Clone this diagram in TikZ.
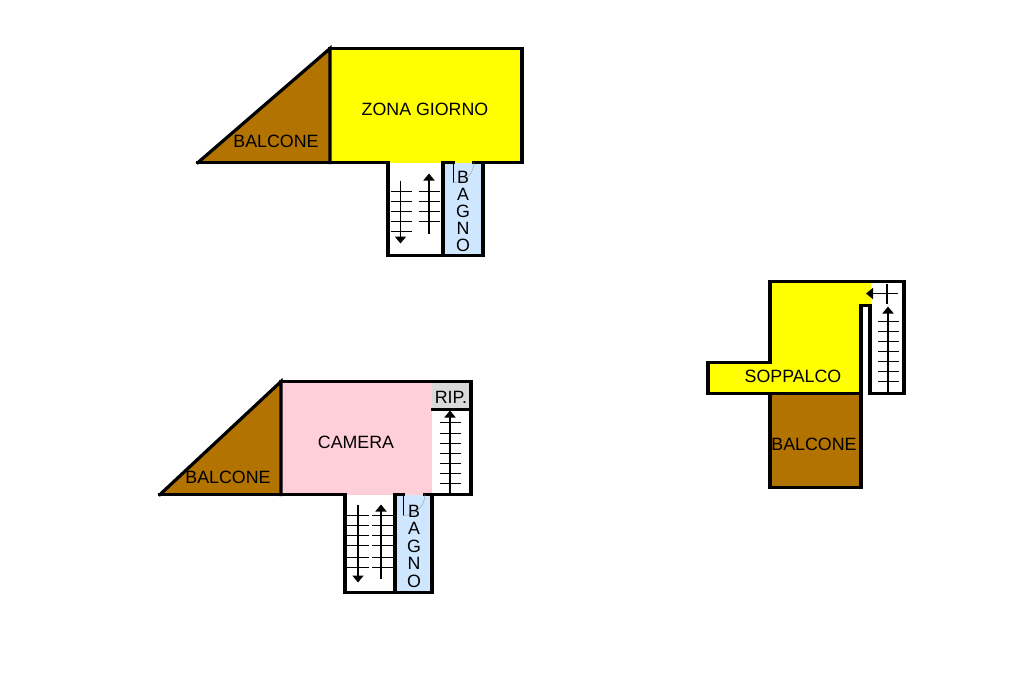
\documentclass[tikz,border=0pt]{standalone}
\usepackage{fontspec}
\setmainfont{Liberation Sans}
\usetikzlibrary{arrows.meta}
\definecolor{brownb}{HTML}{B27300}
\definecolor{pinkc}{HTML}{FFCFD9}
\definecolor{blueb}{HTML}{CFE6FF}
\definecolor{greyr}{HTML}{D9D9D9}
\definecolor{yelz}{RGB}{255,255,0}
\tikzset{
  x=1pt,y=-1pt,
  wall/.style={line width=3.2pt,line cap=rect,line join=miter,black},
  thin stair/.style={line width=1.2pt,black},
  flight/.style={line width=1.7pt,black,-{Triangle[length=7pt,width=11pt]}},
  doorleaf/.style={line width=0.9pt,black},
  doorarc/.style={line width=0.5pt,black!35},
  lbl/.style={font=\fontsize{17.8}{20}\selectfont,inner sep=0pt,text=black},
  vlbl/.style={font=\fontsize{17.8}{20}\selectfont,inner sep=0pt,text=black}
}
\begin{document}
\begin{tikzpicture}
\useasboundingbox (0,0) rectangle (1024,682);
\fill[white] (0,0) rectangle (1024,682);
\begin{scope}[shift={(0,0.5)}]
% ===== top plan =====
\fill[brownb] (198,162) -- (330,48) -- (330,162) -- cycle;
\fill[yelz] (330,48) rectangle (522,162);
\fill[blueb] (443,162) rectangle (483,255);
\draw[wall] (198,162) -- (330,48) -- (330,162);
\draw[wall] (330,48) -- (522,48) -- (522,162) -- (474,162);
\draw[wall] (453,162) -- (443,162);
\draw[wall] (198,162) -- (388,162) -- (388,255) -- (483,255) -- (483,162);
\draw[wall] (443,162) -- (443,255);
\draw[doorleaf] (453,162) -- (453,182);
\draw[doorarc] (474,162) arc[start angle=0,end angle=90,x radius=21,y radius=20];
\draw[flight] (400.5,180) -- (400.5,243);
\draw[flight] (429,233) -- (429,173);
\foreach \y in {191,201,211,221,231} \draw[thin stair] (391,\y) -- (412,\y);
\foreach \y in {191,201,211,221} \draw[thin stair] (419,\y) -- (440,\y);
\node[lbl] (bal1) at (276,141) {BALCONE};
\node[lbl] (zona) at (425,109) {ZONA GIORNO};
\node[vlbl] (b1) at (463,177) {B};
\node[vlbl] (b2) at (463,194) {A};
\node[vlbl] (b3) at (463,211) {G};
\node[vlbl] (b4) at (463,228) {N};
\node[vlbl] (b5) at (463,245) {O};
% ===== bottom plan =====
\fill[brownb] (160,494) -- (281,381) -- (281,494) -- cycle;
\fill[pinkc] (281,381) rectangle (432,494);
\fill[greyr] (432,381) rectangle (471,409);
\fill[blueb] (395,494) rectangle (432,592);
\draw[wall] (160,494) -- (281,381) -- (281,494);
\draw[wall] (281,381) -- (471,381) -- (471,494) -- (425,494);
\draw[wall] (433,409) -- (471,409);
\draw[wall] (403,494) -- (395,494);
\draw[wall] (160,494) -- (345,494) -- (345,592) -- (432,592) -- (432,494);
\draw[wall] (395,494) -- (395,592);
\draw[doorleaf] (403,494) -- (403,515);
\draw[doorarc] (425,494) arc[start angle=0,end angle=90,x radius=22,y radius=21];
\draw[flight] (358,504) -- (358,582);
\draw[flight] (381,578) -- (381,504);
\draw[flight] (450,494) -- (450,410);
\foreach \y in {515,525,535,545,557,567} {
  \draw[thin stair] (347,\y) -- (369,\y);
  \draw[thin stair] (372,\y) -- (393,\y);
}
\foreach \y in {422,433,443,453,463,473,483} \draw[thin stair] (440,\y) -- (461,\y);
\node[lbl] (bal2) at (228,477) {BALCONE};
\node[lbl] (cam) at (356,442) {CAMERA};
\node[lbl] (rip) at (451,397) {RIP.};
\node[vlbl] (c1) at (414,511) {B};
\node[vlbl] (c2) at (414,528) {A};
\node[vlbl] (c3) at (414,546) {G};
\node[vlbl] (c4) at (414,563) {N};
\node[vlbl] (c5) at (414,581) {O};
% ===== right plan =====
\fill[yelz] (770,281) -- (871,281) -- (871,305) -- (861,305) -- (861,393) -- (708,393) -- (708,362) -- (770,362) -- cycle;
\fill[brownb] (770,393) rectangle (861,487);
\draw[wall] (870,305) -- (861,305) -- (861,487) -- (770,487) -- (770,393);
\draw[wall] (870,305) -- (870,393) -- (904,393) -- (904,281) -- (770,281) -- (770,362) -- (708,362) -- (708,393) -- (861,393);
\draw[flight] (898,293) -- (866,293);
\draw[thin stair] (887,283) -- (887,303);
\draw[flight] (888,393) -- (888,306);
\foreach \y in {321,331,341,351,361,371,381} \draw[thin stair] (878,\y) -- (899,\y);
\node[lbl] (sop) at (793,376) {SOPPALCO};
\node[lbl] (bal3) at (814,444) {BALCONE};
\end{scope}
\end{tikzpicture}
\end{document}
